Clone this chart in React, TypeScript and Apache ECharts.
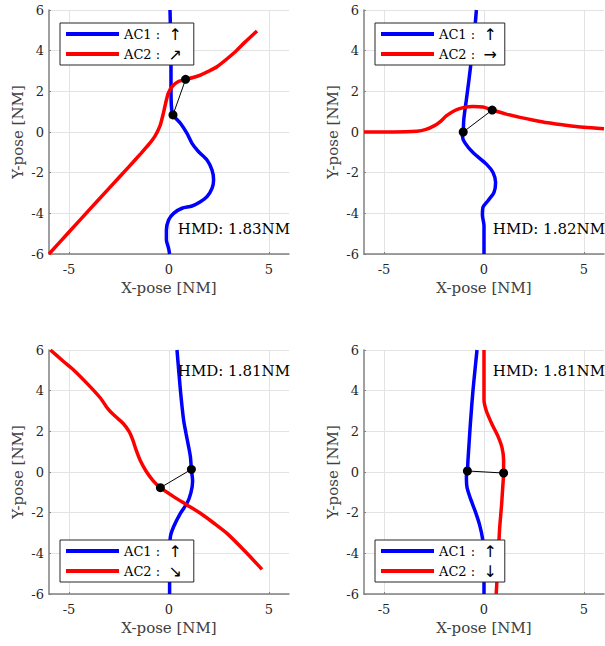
import React, { useEffect, useRef } from "react";
import * as echarts from "echarts";

// ---------- data ----------
const xTicks = [-5, 0, 5];
const legendNames1 = ["AC1 :  ↑", "AC2 :  ↗"];
const legendNames2 = ["AC1 :  ↑", "AC2 :  →"];
const legendNames3 = ["AC1 :  ↑", "AC2 :  ↘"];
const legendNames4 = ["AC1 :  ↑", "AC2 :  ↓"];
const hmdLabels = ["HMD: 1.83NM", "HMD: 1.82NM", "HMD: 1.81NM", "HMD: 1.81NM"];

// subplot 1
const ac1Path1 = [
  [0.03, -6], [-0.02, -5.72], [-0.13, -5.31], [-0.13, -4.82], [-0.02, -4.33], [0.23, -4.0],
  [0.65, -3.75], [1.15, -3.64], [1.57, -3.43], [1.9, -3.18], [2.15, -2.77], [2.23, -2.36],
  [2.15, -1.87], [1.9, -1.38], [1.48, -0.97], [1.15, -0.56], [0.9, -0.07], [0.57, 0.43],
  [0.2, 0.84], [0.12, 1.3], [0.1, 2.2], [0.1, 3.34], [0.05, 6],
];
const ac2Path1 = [
  [-6, -6], [-5, -4.92], [-4, -3.84], [-3, -2.77], [-2, -1.7], [-1.4, -1.05], [-1.0, -0.6],
  [-0.7, -0.2], [-0.45, 0.3], [-0.3, 0.85], [-0.17, 1.41], [-0.03, 1.92], [0.17, 2.25],
  [0.45, 2.47], [0.83, 2.59], [1.2, 2.68], [1.57, 2.8], [2.0, 3.0], [2.4, 3.21],
  [3.23, 3.87], [3.8, 4.42], [4.4, 4.97],
];
const cpa1 = [[0.2, 0.84], [0.83, 2.59]];

// subplot 2
const ac1Path2 = [
  [0, -6], [0, -5.3], [0, -4.6], [-0.08, -4.1], [-0.05, -3.7], [0.2, -3.38], [0.5, -2.97],
  [0.58, -2.48], [0.45, -1.99], [0.12, -1.58], [-0.55, -1.01], [-0.96, -0.52], [-1.08, -0.2],
  [-1.04, 0], [-1.01, 0.62], [-0.88, 1.6], [-0.75, 2.58], [-0.63, 3.56], [-0.51, 4.53],
  [-0.38, 6],
];
const ac2Path2 = [
  [-6, 0], [-4.5, 0], [-3.36, 0.04], [-2.9, 0.13], [-2.5, 0.3], [-2.2, 0.5], [-1.87, 0.8],
  [-1.46, 1.06], [-1.04, 1.2], [-0.55, 1.26], [-0.05, 1.23], [0.41, 1.08], [1.11, 0.88],
  [1.8, 0.72], [2.43, 0.59], [3.2, 0.45], [4.09, 0.33], [5, 0.23], [6, 0.16],
];
const cpa2 = [[-1.04, 0], [0.41, 1.08]];

// subplot 3
const ac1Path3 = [
  [0.03, -6], [0.03, -5.3], [0.02, -4.2], [0.07, -3.18], [0.23, -2.69], [0.57, -2.03],
  [0.9, -1.54], [1.1, -1.0], [1.18, -0.45], [1.12, 0.13], [1.07, 0.75], [0.97, 1.3],
  [0.85, 1.9], [0.73, 2.56], [0.57, 4.03], [0.4, 6],
];
const ac2Path3 = [
  [-5.93, 6], [-5.3, 5.46], [-4.77, 5.02], [-4.1, 4.36], [-3.43, 3.64], [-3.05, 3.1],
  [-2.7, 2.75], [-2.3, 2.4], [-2.0, 2.0], [-1.82, 1.6], [-1.65, 1.1], [-1.43, 0.55],
  [-1.15, 0.05], [-0.8, -0.42], [-0.43, -0.77], [0.23, -1.21], [0.9, -1.62], [1.57, -2.03],
  [2.25, -2.52], [2.9, -3.02], [3.8, -3.9], [4.65, -4.79],
];
const cpa3 = [[-0.43, -0.77], [1.12, 0.13]];

// subplot 4
const ac1Path4 = [
  [0, -6], [0, -4.98], [-0.02, -4], [-0.07, -3.3], [-0.22, -2.6], [-0.45, -1.9],
  [-0.68, -1.3], [-0.85, -0.75], [-0.88, -0.2], [-0.83, 0.05], [-0.8, 0.6], [-0.74, 1.5],
  [-0.68, 2.39], [-0.55, 4.03], [-0.35, 6],
];
const ac2Path4 = [
  [0, 6], [0, 4.5], [0, 3.54], [0.12, 3.0], [0.4, 2.35], [0.7, 1.75], [0.9, 1.2],
  [0.98, 0.6], [0.98, -0.05], [0.94, -0.7], [0.88, -1.6], [0.78, -2.8], [0.7, -4.4], [0.61, -6],
];
const cpa4 = [[-0.83, 0.05], [0.98, -0.05]];

const FONT = "DejaVu Serif";
const BLUE = "#0000ff";
const RED = "#ff0000";

const gridsPos = [
  { left: 49, top: 10 },
  { left: 364, top: 10 },
  { left: 49, top: 350 },
  { left: 364, top: 350 },
];
const GW = 240;
const GH = 244;

const panels = [
  { ac1: ac1Path1, ac2: ac2Path1, cpa: cpa1, names: legendNames1, legendTop: 23, hmdTop: true, padR: 12 },
  { ac1: ac1Path2, ac2: ac2Path2, cpa: cpa2, names: legendNames2, legendTop: 23, hmdTop: true, padR: 8 },
  { ac1: ac1Path3, ac2: ac2Path3, cpa: cpa3, names: legendNames3, legendTop: 540, hmdTop: false, padR: 12 },
  { ac1: ac1Path4, ac2: ac2Path4, cpa: cpa4, names: legendNames4, legendTop: 540, hmdTop: false, padR: 8 },
];

export default function App() {
  const ref = useRef<HTMLDivElement>(null);
  useEffect(() => {
    if (!ref.current) return;
    const chart = echarts.init(ref.current, null, { renderer: "svg" });

    const grid: any[] = [];
    const xAxis: any[] = [];
    const yAxis: any[] = [];
    const series: any[] = [];
    const legend: any[] = [];
    const graphic: any[] = [];

    panels.forEach((p, i) => {
      const g = gridsPos[i];
      grid.push({ left: g.left, top: g.top, width: GW, height: GH, containLabel: false });
      xAxis.push({
        type: "value",
        gridIndex: i,
        min: -6,
        max: 6,
        name: "X-pose [NM]",
        nameLocation: "middle",
        nameGap: 26,
        nameTextStyle: { fontFamily: FONT, fontSize: 15, color: "#404040" },
        axisLine: { onZero: false, lineStyle: { color: "#808080", width: 1.5 } },
        axisTick: { show: true, inside: true, length: 2, customValues: xTicks, lineStyle: { color: "#808080" } },
        axisLabel: { customValues: xTicks, fontFamily: FONT, fontSize: 13, color: "#262626", margin: 9 },
        splitLine: { show: true, lineStyle: { color: "#e3e3e3", width: 1 } },
      });
      yAxis.push({
        type: "value",
        gridIndex: i,
        min: -6,
        max: 6,
        interval: 2,
        name: "Y-pose [NM]",
        nameLocation: "middle",
        nameGap: 24,
        nameTextStyle: { fontFamily: FONT, fontSize: 15, color: "#404040" },
        axisLine: { show: true, onZero: false, lineStyle: { color: "#808080", width: 1.5 } },
        axisTick: { show: true, inside: true, length: 2, lineStyle: { color: "#808080" } },
        axisLabel: { fontFamily: FONT, fontSize: 13, color: "#262626", margin: 5 },
        splitLine: { show: true, lineStyle: { color: "#e3e3e3", width: 1 } },
      });
      series.push({
        type: "line",
        name: p.names[0],
        xAxisIndex: i,
        yAxisIndex: i,
        data: p.ac1,
        showSymbol: false,
        smooth: 0.25,
        color: BLUE,
        lineStyle: { color: BLUE, width: 3.5 },
        z: 2,
      });
      series.push({
        type: "line",
        name: p.names[1],
        xAxisIndex: i,
        yAxisIndex: i,
        data: p.ac2,
        showSymbol: false,
        smooth: 0.25,
        color: RED,
        lineStyle: { color: RED, width: 3.5 },
        z: 3,
      });
      series.push({
        type: "line",
        name: "cpa" + i,
        xAxisIndex: i,
        yAxisIndex: i,
        data: p.cpa,
        symbol: "circle",
        symbolSize: 9,
        showSymbol: true,
        itemStyle: { color: "#000" },
        lineStyle: { color: "#000", width: 1 },
        z: 4,
      });
      legend.push({
        data: p.names,
        left: g.left + 11,
        top: p.legendTop,
        orient: "vertical",
        icon: "rect",
        itemWidth: 53,
        itemHeight: 4,
        itemGap: 2,
        padding: [2, p.padR, 2, 6],
        backgroundColor: "#fff",
        borderColor: "#262626",
        borderWidth: 1,
        borderRadius: 0,
        selectedMode: false,
        formatter: (name: string) => {
          const parts = name.split("  ");
          return `{t|${parts[0]}}  {r|${parts[1]}}`;
        },
        textStyle: {
          fontFamily: FONT,
          fontSize: 13,
          color: "#000",
          lineHeight: 18,
          rich: {
            t: { fontFamily: FONT, fontSize: 13, color: "#000", lineHeight: 18 },
            r: { fontFamily: "DejaVu Sans", fontSize: 16, color: "#000", lineHeight: 18 },
          },
        },
        z: 10,
      });
      graphic.push({
        type: "text",
        right: 605 - (g.left + GW) - 1,
        top: p.hmdTop ? g.top + 211 : g.top + 13,
        style: { text: hmdLabels[i], fontFamily: FONT, fontSize: 15, fill: "#000" },
        z: 20,
      });
    });

    chart.setOption({
      animation: false,
      backgroundColor: "#fff",
      grid,
      xAxis,
      yAxis,
      series,
      legend,
      graphic,
    });
    return () => chart.dispose();
  }, []);
  return (
    <div
      ref={ref}
      style={{ position: "fixed", left: 0, top: 0, width: 605, height: 646 }}
    />
  );
}
